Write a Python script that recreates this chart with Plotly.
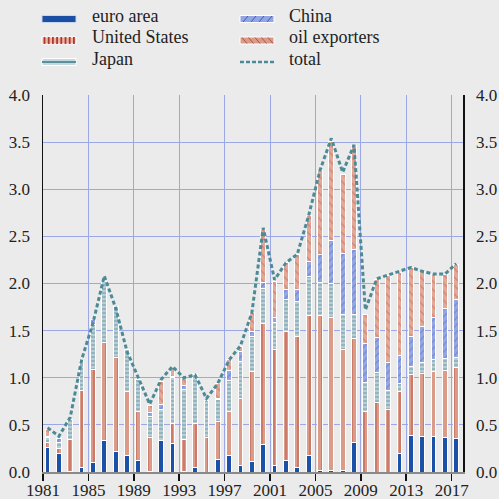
import plotly.graph_objects as go

years = list(range(1981, 2018))

euro_area = [0.26, 0.20, 0.01, 0.05, 0.10, 0.33, 0.22, 0.18, 0.12, 0.01,
             0.335, 0.30, 0.01, 0.05, 0.00, 0.13, 0.18, 0.065, 0.11, 0.29,
             0.065, 0.12, 0.05, 0.17, 0.02, 0.02, 0.015, 0.31, 0.0, 0.0,
             0.0, 0.195, 0.39, 0.38, 0.38, 0.37, 0.36]
united_states = [0.05, 0.05, 0.34, 0.82, 0.99, 1.04, 0.99, 0.67, 0.52, 0.355,
                 0.0, 0.21, 0.33, 0.46, 0.37, 0.41, 0.46, 0.72, 0.96, 1.29,
                 1.24, 1.375, 1.39, 1.49, 1.64, 1.62, 1.28, 1.11, 0.64, 0.74,
                 0.66, 0.66, 0.64, 0.665, 0.685, 0.71, 0.745]
japan = [0.06, 0.06, 0.21, 0.31, 0.48, 0.65, 0.55, 0.45, 0.34, 0.22,
         0.33, 0.49, 0.535, 0.52, 0.39, 0.23, 0.33, 0.39, 0.37, 0.37,
         0.28, 0.34, 0.37, 0.41, 0.35, 0.355, 0.38, 0.255, 0.31, 0.32,
         0.21, 0.08, 0.085, 0.12, 0.125, 0.125, 0.115]
china = [0.01, 0.05, 0.0, 0.0, 0.05, 0.0, 0.0, 0.0, 0.0, 0.05,
         0.05, 0.01, 0.045, 0.0, 0.0, 0.01, 0.11, 0.10, 0.05, 0.06,
         0.05, 0.105, 0.125, 0.16, 0.30, 0.46, 0.64, 0.69, 0.415, 0.37,
         0.29, 0.30, 0.325, 0.375, 0.45, 0.53, 0.61]
oil_exporters = [0.07, 0.0, 0.0, 0.0, 0.0, 0.0, 0.0, 0.0, 0.0, 0.07,
                 0.24, 0.10, 0.07, 0.015, 0.0, 0.16, 0.11, 0.06, 0.20, 0.56,
                 0.39, 0.28, 0.37, 0.495, 0.89, 1.05, 0.845, 1.095, 0.31, 0.61,
                 0.92, 0.88, 0.725, 0.59, 0.46, 0.365, 0.37]
total = [0.47, 0.38, 0.58, 1.19, 1.58, 2.08, 1.74, 1.28, 1.00, 0.72,
         0.98, 1.12, 1.00, 1.03, 0.78, 0.94, 1.19, 1.34, 1.69, 2.59,
         2.04, 2.22, 2.31, 2.72, 3.20, 3.54, 3.18, 3.47, 1.72, 2.05,
         2.09, 2.13, 2.17, 2.13, 2.10, 2.10, 2.21]

y_ticks = [0.0, 0.5, 1.0, 1.5, 2.0, 2.5, 3.0, 3.5, 4.0]
x_ticks = list(range(1981, 2018, 4))

FONT = "Liberation Serif"
BG = "#ebebeb"
GRID = "#9ca7e6"

xpos = [y + 0.4 for y in years]

series = [
    ("euro area", euro_area, dict(color="#1b52a8")),
    ("United States", united_states, dict(color="#da9b89",
        pattern=dict(shape="|", fgcolor="#b0382b", bgcolor="#da9b89", size=6, solidity=0.22))),
    ("Japan", japan, dict(color="#b9cdd5",
        pattern=dict(shape="-", fgcolor="#4f8896", bgcolor="#b9cdd5", size=4, solidity=0.35))),
    ("China", china, dict(color="#96a6e2",
        pattern=dict(shape="/", fgcolor="#3d5ec2", bgcolor="#96a6e2", size=5, solidity=0.2))),
    ("oil exporters", oil_exporters, dict(color="#e2a898",
        pattern=dict(shape="\\", fgcolor="#bf5e4d", bgcolor="#e2a898", size=6, solidity=0.2))),
]

fig = go.Figure()
for name, vals, mk in series:
    mk = dict(mk)
    mk["line"] = dict(color="white", width=1)
    fig.add_trace(go.Bar(x=xpos, y=vals, name=name, width=0.42, marker=mk,
                         showlegend=False, hoverinfo="skip"))

fig.add_trace(go.Scatter(x=xpos, y=total, name="total", mode="lines", yaxis="y2",
                         line=dict(color="#4d8a98", width=3, dash="4px,2.5px"),
                         showlegend=False, hoverinfo="skip"))

W, H = 499, 499
L, R, T, B = 43, 36, 95, 27
pw, ph = W - L - R, H - T - B


def px(x):
    return (x - L) / pw


def py(y):
    return (H - B - y) / ph


shapes = []
annotations = []


def rect(x0, y0, x1, y1, fill, line="white", lw=1):
    shapes.append(dict(type="rect", xref="paper", yref="paper",
                       x0=px(x0), x1=px(x1), y0=py(y1), y1=py(y0),
                       fillcolor=fill, line=dict(color=line, width=lw), layer="above"))


def seg(x0, y0, x1, y1, color, w, dash=None):
    ln = dict(color=color, width=w)
    if dash:
        ln["dash"] = dash
    shapes.append(dict(type="line", xref="paper", yref="paper",
                       x0=px(x0), x1=px(x1), y0=py(y0), y1=py(y1),
                       line=ln, layer="above"))


def label(x, y, text):
    annotations.append(dict(xref="paper", yref="paper", x=px(x), y=py(y),
                            text=text, showarrow=False, xanchor="left",
                            yanchor="middle",
                            font=dict(family=FONT, size=18, color="#222222")))


c1, c2 = 42, 240
sw = 34
rows = [19, 40.5, 62]
tx1, tx2 = 90, 287
dy = -3
# euro area
rect(c1, rows[0] - 3.5, c1 + sw, rows[0] + 3.5, "#1b4fa3", line="#c8d6f0")
label(tx1, rows[0] + dy, "euro area")
# United States
rect(c1, rows[1] - 3.5, c1 + sw, rows[1] + 3.5, "#ebb4a6")
for i in range(8):
    xx = c1 + 2.5 + i * 4.2
    seg(xx, rows[1] - 3.5, xx, rows[1] + 3.5, "#b0392e", 1.8)
label(tx1, rows[1] + dy, "United States")
# Japan
rect(c1, rows[2] - 3.5, c1 + sw, rows[2] + 3.5, "#c6d8df")
seg(c1, rows[2], c1 + sw, rows[2], "#5a8f9c", 2)
label(tx1, rows[2] + dy, "Japan")
# China
rect(c2, rows[0] - 3.5, c2 + sw, rows[0] + 3.5, "#93a5e2")
for i in range(4):
    xx = c2 + 3 + i * 8
    seg(xx, rows[0] + 3, xx + 5, rows[0] - 3, "#3a5bc0", 1)
label(tx2, rows[0] + dy, "China")
# oil exporters
rect(c2, rows[1] - 3.5, c2 + sw, rows[1] + 3.5, "#dc9a88")
for i in range(5):
    xx = c2 + 2 + i * 6.5
    seg(xx, rows[1] - 3, xx + 5, rows[1] + 3, "#b25545", 1)
label(tx2, rows[1] + dy, "oil exporters")
# total
seg(c2, rows[2], c2 + sw, rows[2], "#4d8a98", 2.5, dash="4px,2px")
label(tx2, rows[2] + dy, "total")

tickfont = dict(family=FONT, size=17, color="#222222")

fig.update_layout(
    width=W, height=H,
    margin=dict(l=L, r=R, t=T, b=B, pad=0, autoexpand=False),
    paper_bgcolor=BG, plot_bgcolor=BG,
    barmode="stack", bargap=0,
    showlegend=False, hovermode=False,
    shapes=shapes, annotations=annotations,
    xaxis=dict(range=[1981, 2018], tickvals=x_ticks, ticktext=[str(v) for v in x_ticks],
               showgrid=True, gridcolor=GRID, gridwidth=1, automargin=False,
               showline=True, linecolor="#8a8a8a", linewidth=2,
               ticks="outside", ticklen=7, tickwidth=1.5, tickcolor="#111111",
               ticklabelstandoff=-5,
               tickfont=tickfont, zeroline=False, fixedrange=True),
    yaxis=dict(range=[0, 4], tickvals=y_ticks, ticktext=[f"{v:.1f}" for v in y_ticks],
               showgrid=True, gridcolor=GRID, gridwidth=1, automargin=False,
               showline=True, linecolor="#111111", linewidth=1.5,
               ticks="", ticklabelstandoff=8, tickfont=tickfont, zeroline=False),
    yaxis2=dict(range=[0, 4], tickvals=y_ticks, ticktext=[f"{v:.1f}" for v in y_ticks],
                overlaying="y", side="right", showgrid=False, automargin=False,
                showline=True, linecolor="#111111", linewidth=1.5,
                ticks="", ticklabelstandoff=8, tickfont=tickfont, zeroline=False),
)

fig.write_html(
    "out.html",
    config={"displayModeBar": False, "staticPlot": True},
    post_script="document.body.style.margin='0';document.body.style.overflow='hidden';",
)
